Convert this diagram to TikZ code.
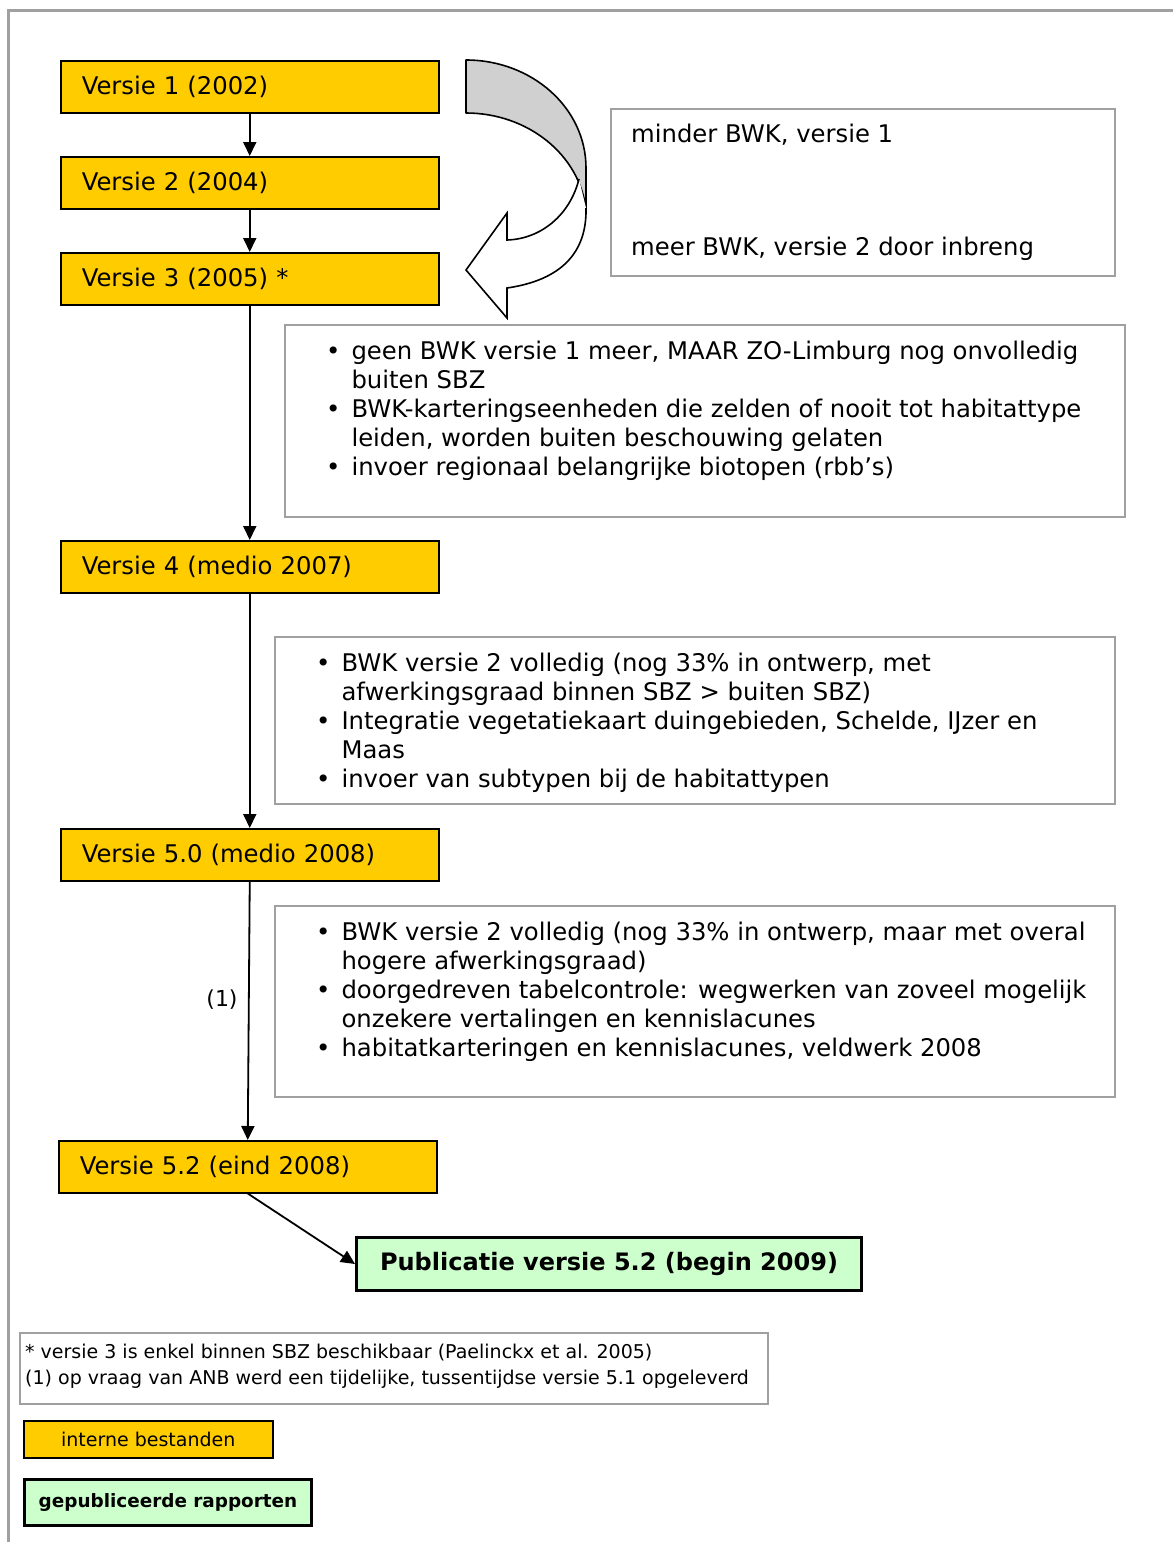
\documentclass[tikz,border=0pt]{standalone}
\usepackage{fontspec}
\setmainfont{DejaVu Sans}
\usetikzlibrary{arrows.meta}
\definecolor{vyellow}{HTML}{FFCC00}
\definecolor{vgreen}{HTML}{CCFFCC}
\definecolor{vgray}{HTML}{A0A0A0}
\definecolor{vfill}{HTML}{D0D0D0}
\tikzset{
  big/.style={font=\fontsize{24.3}{29}\selectfont},
  small/.style={font=\fontsize{19}{25}\selectfont},
  vbox/.style={draw=black, line width=1.5pt, fill=vyellow, anchor=north west,
    inner xsep=21pt, inner ysep=0pt, text width=336pt, minimum height=52pt, align=left, big},
  gbox/.style={draw=vgray, line width=2pt, anchor=north west, inner sep=0pt},
  txt/.style={inner sep=0pt, anchor=base west, big},
  arr/.style={-{Triangle[width=13pt,length=14pt]}, line width=1.8pt},
  frameline/.style={draw=vgray, line width=3pt},
}
\newcommand{\bul}{\textbullet}
\begin{document}
\begin{tikzpicture}[x=1pt,y=-1pt]
\useasboundingbox (0,0) rectangle (1173,1542);
\draw[frameline] (8,1542) -- (8,10) -- (1173,10);

% version boxes
\node[vbox] (v1) at (60,60) {Versie 1 (2002)};
\node[vbox] (v2) at (60,156) {Versie 2 (2004)};
\node[vbox] (v3) at (60,252) {Versie 3 (2005) *};
\node[vbox] (v4) at (60,540) {Versie 4 (medio 2007)};
\node[vbox] (v50) at (60,828) {Versie 5.0 (medio 2008)};
\node[vbox] (v52) at (58,1140) {Versie 5.2 (eind 2008)};
\node[draw=black, line width=3pt, fill=vgreen, anchor=north west, minimum width=505pt,
  minimum height=53pt, inner sep=0pt, font=\fontsize{24}{29}\selectfont\bfseries] (pub) at (355,1236)
  {Publicatie versie 5.2 (begin 2009)};

\draw[arr] (v1) -- (v2);
\draw[arr] (v2) -- (v3);
\draw[arr] (v3) -- (v4);
\draw[arr] (v4) -- (v50);
\draw[arr] (v50.south) -- (v52.north);
\draw[arr] (v52.south) -- (pub.west);
\node[inner sep=0pt, font=\fontsize{22}{26}\selectfont] (lab1) at (222,1000) {(1)};

% curved arrow
\filldraw[fill=vfill, draw=black, line width=1.6pt, line join=round]
  (466,60) .. controls (532,60) and (586,108) .. (586,168) -- (586,210)
  .. controls (580,155) and (528,113) .. (466,113) -- cycle;
\filldraw[fill=white, draw=black, line width=1.6pt, line join=miter]
  (579,179) .. controls (570,215) and (541,239) .. (507,240) -- (507,213) -- (466,270)
  -- (507,318) -- (507,288) .. controls (562,280) and (587,252) .. (586,208);

% right boxes
\node[gbox, minimum width=504pt, minimum height=167pt] (b1) at (610,108) {};
\node[txt] (b1a) at (631,142) {minder BWK, versie 1};
\node[txt] (b1b) at (631,255) {meer BWK, versie 2 door inbreng};

\node[gbox, minimum width=840pt, minimum height=192pt] (b2) at (284,324) {};
\node[txt] (b2t) at (326,359) {\begin{tabular}[t]{@{}l@{\hspace{11pt}}l@{}}
\bul & geen BWK versie 1 meer, MAAR ZO-Limburg nog onvolledig\\
 & buiten SBZ\\
\bul & BWK-karteringseenheden die zelden of nooit tot habitattype\\
 & leiden, worden buiten beschouwing gelaten\\
\bul & invoer regionaal belangrijke biotopen (rbb’s)
\end{tabular}};

\node[gbox, minimum width=840pt, minimum height=167pt] (b3) at (274,636) {};
\node[txt] (b3t) at (316,671) {\begin{tabular}[t]{@{}l@{\hspace{11pt}}l@{}}
\bul & BWK versie 2 volledig (nog 33\% in ontwerp, met\\
 & afwerkingsgraad binnen SBZ > buiten SBZ)\\
\bul & Integratie vegetatiekaart duingebieden, Schelde, IJzer en\\
 & Maas\\
\bul & invoer van subtypen bij de habitattypen
\end{tabular}};

\node[gbox, minimum width=840pt, minimum height=191pt] (b4) at (274,905) {};
\node[txt] (b4t) at (316,940) {\begin{tabular}[t]{@{}l@{\hspace{11pt}}l@{}}
\bul & BWK versie 2 volledig (nog 33\% in ontwerp, maar met overal\\
 & hogere afwerkingsgraad)\\
\bul & doorgedreven tabelcontrole: wegwerken van zoveel mogelijk\\
 & onzekere vertalingen en kennislacunes\\
\bul & habitatkarteringen en kennislacunes, veldwerk 2008
\end{tabular}};

% footnotes
\node[gbox, minimum width=748pt, minimum height=71pt] (fn) at (19,1332) {};
\node[txt, small] (fn1) at (25,1358) {* versie 3 is enkel binnen SBZ beschikbaar (Paelinckx et al. 2005)};
\node[txt, small] (fn2) at (25,1384) {(1) op vraag van ANB werd een tijdelijke, tussentijdse versie 5.1 opgeleverd};

% legend
\node[draw=black, line width=1.5pt, fill=vyellow, anchor=north west, minimum width=249pt,
  minimum height=37pt, inner sep=0pt, small] (lg1) at (23,1420) {interne bestanden};
\node[draw=black, line width=3pt, fill=vgreen, anchor=north west, minimum width=287pt,
  minimum height=46pt, inner sep=0pt, font=\fontsize{18.4}{22}\selectfont\bfseries] (lg2) at (23,1478) {gepubliceerde rapporten};
\end{tikzpicture}
\end{document}
